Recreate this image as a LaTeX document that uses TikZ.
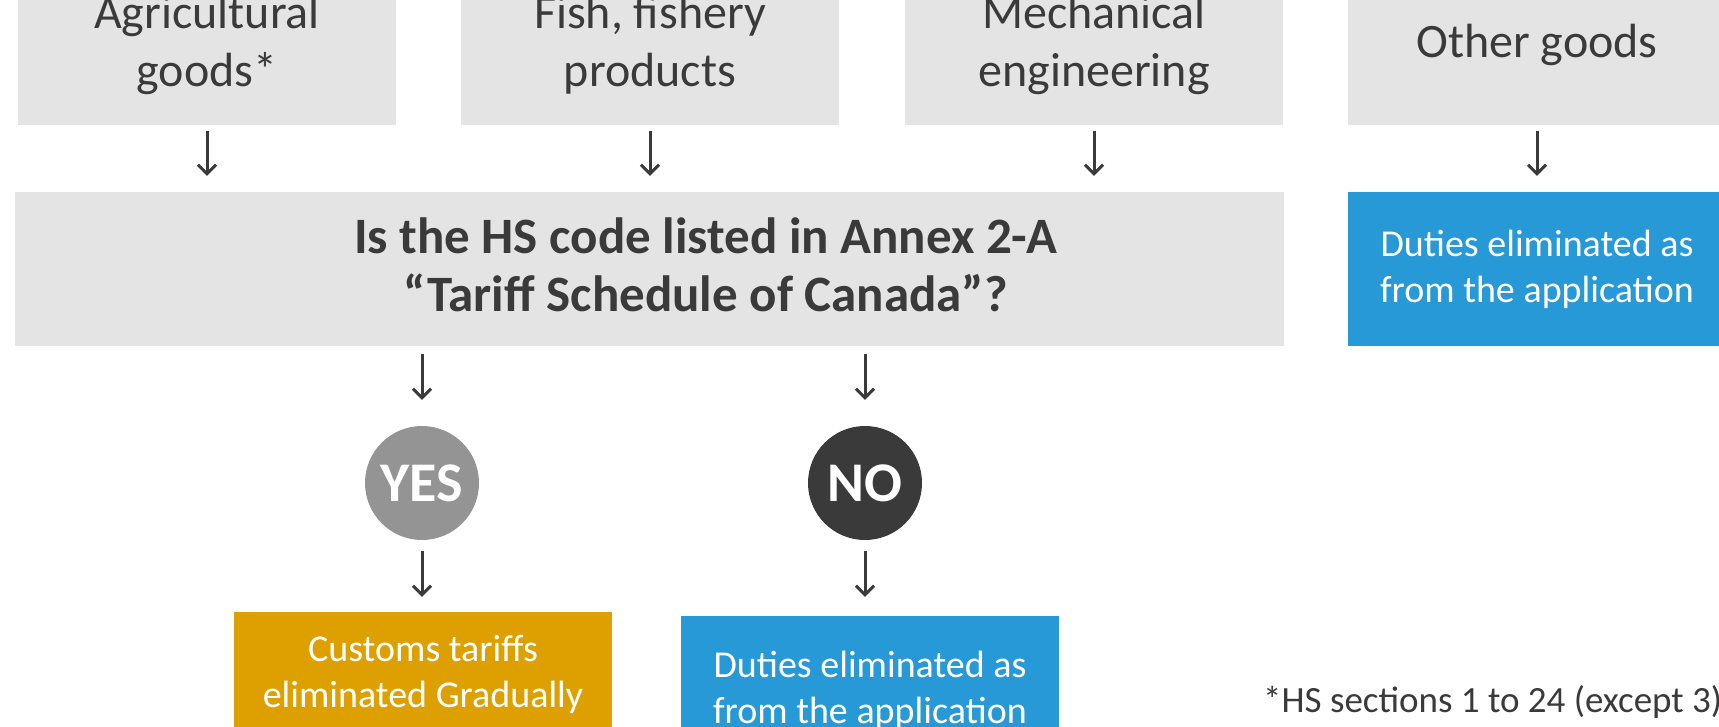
\documentclass[tikz,border=0pt]{standalone}
\usepackage{fontspec}
\setmainfont{Carlito}
\usetikzlibrary{arrows.meta}

\definecolor{boxgrey}{HTML}{E4E4E4}
\definecolor{inkgrey}{HTML}{3A3A3A}
\definecolor{dutyblue}{HTML}{2699D6}
\definecolor{gradorange}{HTML}{DDA000}
\definecolor{yesgrey}{HTML}{949494}

\tikzset{
	goods/.style={fill=boxgrey, text=inkgrey, minimum width=378pt, minimum height=159.4pt, align=center, inner sep=0pt, font=\fontsize{48}{58}\selectfont},
	result/.style={text=white, minimum width=378pt, align=center, inner sep=0pt, font=\fontsize{38}{46}\selectfont},
	answer/.style={circle, minimum size=114pt, inner sep=0pt, text=white, font=\fontsize{56}{60}\selectfont\bfseries},
	flow/.style={-{Straight Barb[length=9pt, width=18pt]}, line width=3pt, draw=inkgrey},
}

\begin{document}
\begin{tikzpicture}[x=1pt, y=-1pt]
				\path[use as bounding box, clip] (0,0) rectangle (1719,726);
				\node[goods] (agri) at (207,45) {Agricultural\\goods*};
				\node[goods] (fish) at (650,45) {Fish, fishery\\products};
				\node[goods] (mech) at (1094,45) {Mechanical\\engineering};
				\node[goods] (other) at (1537,45) {Other goods};
				\node[fill=boxgrey, minimum width=1268.7pt, minimum height=153.7pt, inner sep=0pt] (hs) at (649.4,268.9) {};
				\node[text=inkgrey, align=center, inner sep=0pt, font=\fontsize{51}{58}\selectfont\bfseries] (hstext) at ([xshift=56pt, yshift=4pt]hs.center) {Is the HS code listed in Annex 2-A\\“Tariff Schedule of Canada”?};
				\node[result, fill=dutyblue, minimum height=153.7pt] (dutyother) at (1537,268.9) {Duties eliminated as\\from the application};
				\node[answer, fill=yesgrey] (yes) at (422,483) {YES};
				\node[answer, fill=inkgrey] (no) at (865,483) {NO};
				\node[result, fill=gradorange, minimum height=125pt] (gradual) at (423,674.5) {Customs tariffs\\eliminated Gradually};
				\node[result, fill=dutyblue, minimum height=149pt] (dutyno) at (870,690.5) {Duties eliminated as\\from the application};
				\node[text=inkgrey, anchor=base west, inner sep=0pt, font=\fontsize{37}{44}\selectfont] (note) at (1263,712) {*HS sections 1 to 24 (except 3)};
				\foreach \src in {agri, fish, mech}
					\draw[flow, shorten <=6pt, shorten >=16pt] (\src.south) -- (\src.south |- hs.north);
				\draw[flow, shorten <=6pt, shorten >=16pt] (other.south) -- (other.south |- dutyother.north);
				\draw[flow, shorten <=8pt, shorten >=26pt] (yes |- hs.south) -- (yes.north);
				\draw[flow, shorten <=8pt, shorten >=26pt] (no |- hs.south) -- (no.north);
				\draw[flow, shorten <=11pt, shorten >=15pt] (yes.south) -- (yes.south |- gradual.north);
				\draw[flow, shorten <=11pt, shorten >=19pt] (no.south) -- (no.south |- dutyno.north);
			\end{tikzpicture}
\end{document}
